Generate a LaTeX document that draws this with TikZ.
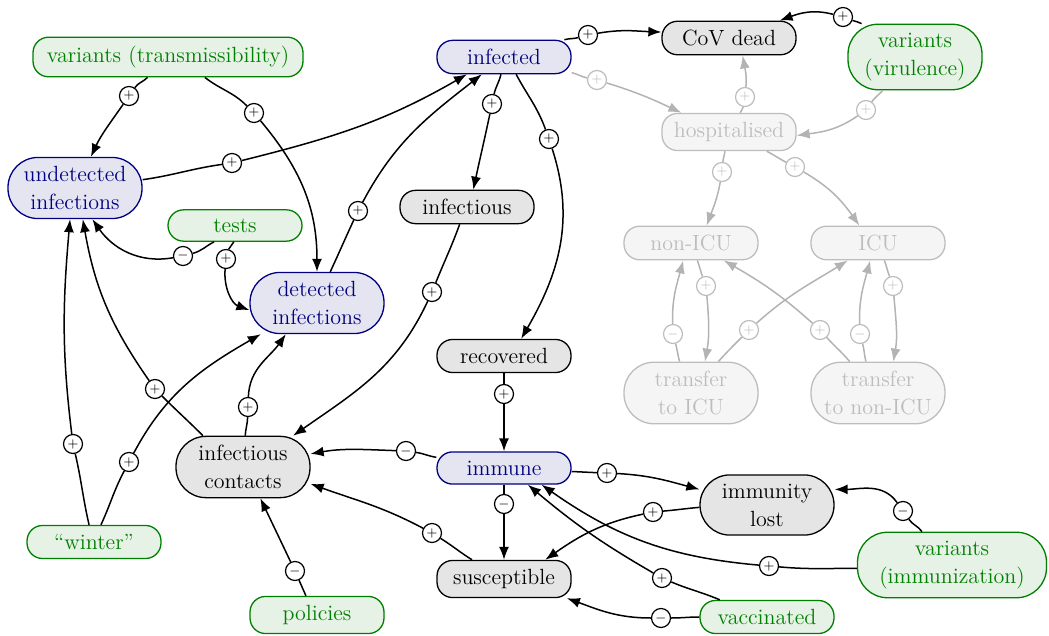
\documentclass[tikz,border=0pt]{standalone}
\usetikzlibrary{arrows.meta}
\definecolor{navy}{HTML}{000080}
\definecolor{bluefill}{HTML}{E5E5F2}
\definecolor{grayfill}{HTML}{E5E5E5}
\definecolor{vgreen}{HTML}{008000}
\definecolor{greenfill}{HTML}{E5F2E5}
\definecolor{faded}{HTML}{BDBDBD}
\definecolor{fadedfill}{HTML}{F5F5F5}
\definecolor{fadedline}{HTML}{B3B3B3}
\tikzset{
 base/.style={rectangle, rounded corners=7.8pt, inner xsep=1pt, inner ysep=4.4pt, minimum width=67pt,
   align=center, line width=0.65pt, font=\fontsize{11}{14}\selectfont},
 two/.style={rounded corners=15pt},
 bnode/.style={base, draw=navy, fill=bluefill, text=navy},
 gnode/.style={base, draw=black, fill=grayfill},
 vnode/.style={base, draw=vgreen, fill=greenfill, text=vgreen},
 fnode/.style={base, draw=faded, fill=fadedfill, text=faded},
 sgn/.style={circle, draw, fill=white, line width=0.6pt, minimum size=9.5pt, inner sep=0pt,
   font=\fontsize{6}{6}\selectfont},
 fsgn/.style={sgn, draw=faded, text=faded},
 edge/.style={line width=0.75pt, -{Latex[length=6.5pt,width=5pt]}},
 fedge/.style={edge, draw=fadedline},
}
\begin{document}
\begin{tikzpicture}[x=0.5pt,y=0.5pt]
\useasboundingbox (0,0) rectangle (1049,-636);
% nodes
\node[vnode, minimum width=135pt] (vtrans) at (168,-57) {variants (transmissibility)};
\node[bnode, two] (undet) at (75,-188) {undetected\\infections};
\node[vnode] (tests) at (235,-225.5) {tests};
\node[bnode] (infected) at (504,-57) {infected};
\node[gnode] (infectious) at (467,-207) {infectious};
\node[gnode] (cov) at (729,-38) {CoV dead};
\node[vnode, two] (vvir) at (915,-57) {variants\\(virulence)};
\node[fnode] (hosp) at (729,-132) {hospitalised};
\node[fnode] (nonicu) at (691,-243) {non-ICU};
\node[fnode] (icu) at (878,-243) {ICU};
\node[fnode, two] (ticu) at (691,-393) {transfer\\to ICU};
\node[fnode, two] (tnicu) at (878,-393) {transfer\\to non-ICU};
\node[bnode, two] (detected) at (317,-303) {detected\\infections};
\node[gnode, two] (ic) at (243,-467) {infectious\\contacts};
\node[vnode] (winter) at (94,-542) {``winter''};
\node[vnode] (policies) at (317,-615) {policies};
\node[gnode] (recovered) at (504,-356) {recovered};
\node[bnode] (immune) at (504,-468) {immune};
\node[gnode] (susceptible) at (504,-579) {susceptible};
\node[gnode, two] (immlost) at (767,-505) {immunity\\lost};
\node[vnode, two, minimum width=94.5pt] (vimm) at (952,-565) {variants\\(immunization)};
\node[vnode] (vaccinated) at (767,-617) {vaccinated};
% sign markers
\node[sgn] (s1) at (129,-96) {$+$};
\node[sgn] (s2) at (254,-113) {$+$};
\node[sgn] (s3) at (232,-163) {$+$};
\node[sgn] (s4) at (358,-211) {$+$};
\node[sgn] (s5) at (183,-256) {$-$};
\node[sgn] (s6) at (226,-259) {$+$};
\node[sgn] (s7) at (588,-35) {$+$};
\node[sgn] (s8) at (843,-17) {$+$};
\node[sgn] (s9) at (492,-104) {$+$};
\node[sgn] (s10) at (549,-139) {$+$};
\node[sgn] (s11) at (432,-292) {$+$};
\node[sgn] (s12) at (155,-389) {$+$};
\node[sgn] (s13) at (73,-444) {$+$};
\node[sgn] (s14) at (129,-462) {$+$};
\node[sgn] (s15) at (248,-407) {$+$};
\node[sgn] (s16) at (406,-451) {$-$};
\node[sgn] (s17) at (432,-533) {$+$};
\node[sgn] (s18) at (295,-571) {$-$};
\node[sgn] (s19) at (504,-394) {$+$};
\node[sgn] (s20) at (504,-504) {$-$};
\node[sgn] (s21) at (607,-473) {$+$};
\node[sgn] (s22) at (653,-512) {$+$};
\node[sgn] (s23) at (903,-511) {$-$};
\node[sgn] (s24) at (769,-566) {$+$};
\node[sgn] (s25) at (662,-578) {$+$};
\node[sgn] (s26) at (661,-618) {$-$};
\node[fsgn] (s27) at (597,-80) {$+$};
\node[fsgn] (s28) at (745,-97) {$+$};
\node[fsgn] (s29) at (866,-110) {$+$};
\node[fsgn] (s30) at (722,-172) {$+$};
\node[fsgn] (s31) at (795,-167) {$+$};
\node[fsgn] (s32) at (706,-286) {$+$};
\node[fsgn] (s33) at (673,-334) {$-$};
\node[fsgn] (s34) at (749,-330) {$+$};
\node[fsgn] (s35) at (820,-330) {$+$};
\node[fsgn] (s36) at (893,-286) {$+$};
\node[fsgn] (s37) at (860,-334) {$-$};
% black edges
\draw[edge] (vtrans.225) to[out=225,in=55] (s1) to[out=235,in=65] (undet.63);
\draw[edge] (vtrans.-29) to[out=-38,in=135] (s2) to[out=-50,in=90] (detected.north);
\draw[edge] (undet.7) to[out=8,in=188] (s3) to[out=14,in=210] (infected.205);
\draw[edge] (detected.67) to[out=65,in=245] (s4) to[out=62,in=218] (infected.218);
\draw[edge] (tests.218) to[out=207,in=15] (s5) to[out=190,in=-55] (undet.-61);
\draw[edge] (tests.-94) to[out=-105,in=75] (s6) to[out=-95,in=160] (detected.186);
\draw[edge] (infected.16) to[out=15,in=195] (s7) to[out=10,in=178] (cov.175);
\draw[edge] (vvir.148) to[out=150,in=-20] (s8) to[out=165,in=20] (cov.19);
\draw[edge] (infected.-100) to[out=-102,in=78] (s9) to[out=-102,in=78] (infectious.70);
\draw[edge] (infected.-55) to[out=-62,in=110] (s10) to[out=-72,in=60] (recovered.45);
\draw[edge] (infectious.-113) to[out=-110,in=68] (s11) to[out=-115,in=35] (ic.32);
\draw[edge] (ic.142) to[out=135,in=-45] (s12) to[out=125,in=-80] (undet.-76);
\draw[edge] (winter.106) to[out=103,in=-77] (s13) to[out=97,in=-95] (undet.-99);
\draw[edge] (winter.68) to[out=65,in=-118] (s14) to[out=62,in=210] (detected.209);
\draw[edge] (ic.86) to[out=86,in=-92] (s15) to[out=88,in=235] (detected.225);
\draw[edge] (immune.171) to[out=172,in=-8] (s16) to[out=178,in=10] (ic.11);
\draw[edge] (susceptible.149) to[out=148,in=-32] (s17) to[out=152,in=-20] (ic.-14);
\draw[edge] (policies.120) -- (s18) -- (ic.-61);
\draw[edge] (recovered) -- (s19) -- (immune);
\draw[edge] (immune) -- (s20) -- (susceptible);
\draw[edge] (immune.-3) to[out=-2,in=178] (s21) to[out=-3,in=165] (immlost.167);
\draw[edge] (immlost.182) to[out=185,in=5] (s22) to[out=192,in=35] (susceptible.25);
\draw[edge] (vimm.132) to[out=125,in=-55] (s23) to[out=125,in=0] (immlost.13);
\draw[edge] (vimm.182) to[out=180,in=-5] (s24) to[out=175,in=-35] (immune.-24);
\draw[edge] (vaccinated.160) to[out=157,in=-23] (s25) to[out=150,in=-40] (immune.-35);
\draw[edge] (vaccinated.180) to[out=180,in=0] (s26) to[out=180,in=-20] (susceptible.-17);
% faded edges
\draw[fedge] (infected.-13) to[out=-14,in=168] (s27) to[out=-17,in=155] (hosp.158);
\draw[fedge] (hosp.60) to[out=70,in=-100] (s28) to[out=85,in=-80] (cov.-52);
\draw[fedge] (vvir.226) to[out=230,in=55] (s29) to[out=215,in=8] (hosp.-3);
\draw[fedge] (hosp.-102) to[out=-95,in=85] (s30) to[out=-100,in=70] (nonicu.48);
\draw[fedge] (hosp.-27) to[out=-28,in=152] (s31) to[out=-30,in=125] (icu.137);
\draw[fedge] (nonicu.-70) to[out=-70,in=110] (s32) to[out=-85,in=80] (ticu.66);
\draw[fedge] (ticu.110) to[out=105,in=-75] (s33) to[out=92,in=-105] (nonicu.-114);
\draw[fedge] (ticu.49) to[out=48,in=225] (s34) to[out=42,in=212] (icu.210);
\draw[fedge] (tnicu.132) to[out=130,in=-48] (s35) to[out=138,in=-30] (nonicu.-28);
\draw[fedge] (icu.-70) to[out=-70,in=110] (s36) to[out=-85,in=80] (tnicu.64);
\draw[fedge] (tnicu.111) to[out=105,in=-75] (s37) to[out=92,in=-105] (icu.-114);
\end{tikzpicture}
\end{document}
